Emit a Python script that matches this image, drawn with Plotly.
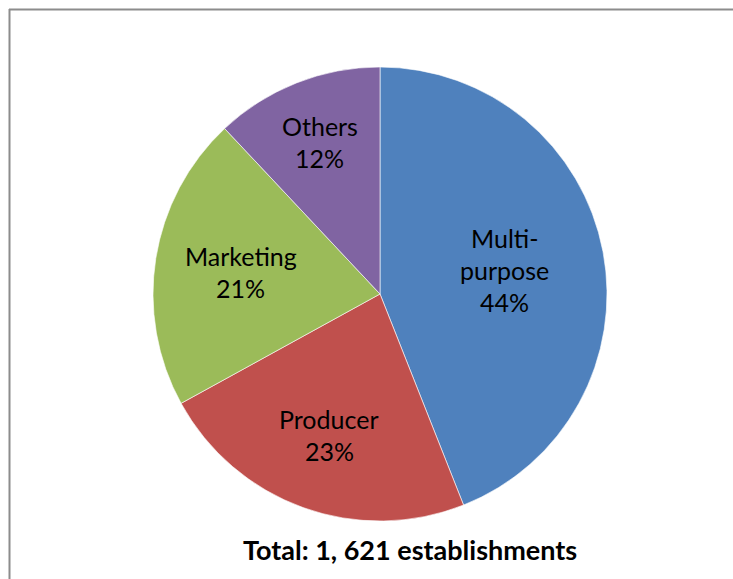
import math
import plotly.graph_objects as go

# Cooperative establishments by type (share of total)
categories = ["Multi-purpose", "Producer", "Marketing", "Others"]
shares = [44, 23, 21, 12]
label_lines = [["Multi-", "purpose"], ["Producer"], ["Marketing"], ["Others"]]
total_note = "Total: 1, 621 establishments"

colors = ["#4F81BD", "#C0504D", "#9BBB59", "#8064A2"]
# how far out (fraction of radius) each slice label sits
label_radius = [0.56, 0.66, 0.62, 0.72]

W, H = 733, 579
cx_px, cy_px, r_px = 380, 294, 227
dom_x = [(cx_px - r_px) / W, (cx_px + r_px) / W]
dom_y = [1 - (cy_px + r_px) / H, 1 - (cy_px - r_px) / H]

fig = go.Figure(
    go.Pie(
        labels=categories,
        values=shares,
        sort=False,
        direction="clockwise",
        rotation=0,
        marker=dict(colors=colors, line=dict(color="rgba(255,255,255,0.6)", width=1)),
        textinfo="none",
        hoverinfo="label+percent",
        domain=dict(x=dom_x, y=dom_y),
        showlegend=False,
    )
)

annotations = []
total = sum(shares)
cum = 0
line_gap = 32
for name_lines, val, f in zip(label_lines, shares, label_radius):
    mid = (cum + val / 2) / total * 2 * math.pi
    cum += val
    x_px = cx_px + f * r_px * math.sin(mid)
    y_px = cy_px - f * r_px * math.cos(mid)
    lines = name_lines + [f"{round(val / total * 100)}%"]
    n = len(lines)
    for i, txt in enumerate(lines):
        offset = (i - (n - 1) / 2) * line_gap
        annotations.append(
            dict(
                x=x_px / W, y=1 - (y_px + offset) / H,
                xref="paper", yref="paper",
                text=txt, showarrow=False,
                font=dict(family="Lato", size=25, color="#000000"),
                xanchor="center", yanchor="middle",
            )
        )

annotations.append(
    dict(
        x=410 / W, y=1 - 549 / H, xref="paper", yref="paper",
        text=f"<b>{total_note}</b>", showarrow=False,
        font=dict(family="Lato", size=27, color="#000000"),
        xanchor="center", yanchor="middle",
    )
)

# frame lines (top and left edge of the chart box)
shapes = [
    dict(type="line", xref="paper", yref="paper",
         x0=9 / W, x1=1.0, y0=1 - 9.5 / H, y1=1 - 9.5 / H,
         line=dict(color="#8C8C8C", width=2)),
    dict(type="line", xref="paper", yref="paper",
         x0=9.5 / W, x1=9.5 / W, y0=1 - 9 / H, y1=0,
         line=dict(color="#8C8C8C", width=2)),
]

fig.update_layout(
    width=W, height=H,
    margin=dict(l=0, r=0, t=0, b=0),
    paper_bgcolor="#FFFFFF",
    plot_bgcolor="#FFFFFF",
    annotations=annotations,
    shapes=shapes,
)

fig.write_html("out.html")
